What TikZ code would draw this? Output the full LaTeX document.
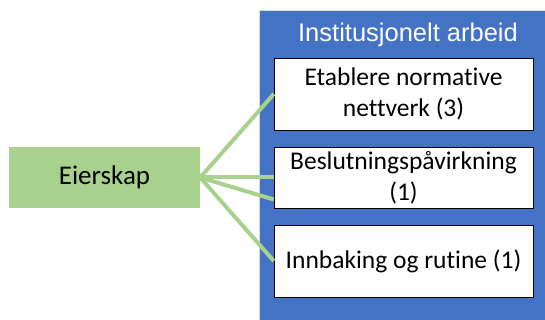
\documentclass[tikz,border=0pt]{standalone}
\usepackage{fontspec}
\setmainfont{Carlito}[Ligatures={NoCommon}]
\newfontfamily\titlefont{Liberation Sans}

\definecolor{workblue}{HTML}{4472C4}
\definecolor{owngreen}{HTML}{A9D18E}

\tikzset{
    workbox/.style={draw=black, fill=white, minimum width=259pt, minimum height=72pt,
        align=center, inner sep=0pt, font=\fontsize{25.5}{31}\selectfont},
    link/.style={draw=owngreen, line width=4pt}
}

\begin{document}
\begin{tikzpicture}[x=1pt, y=-1pt]
            \useasboundingbox (0, 0) rectangle (545, 320);
            % outer frame
            \filldraw[fill=workblue, draw=black!15] (259, 10) rectangle (548, 323);
            \node[text=white, font=\titlefont\fontsize{25.5}{30}\selectfont] (title) at (408, 35) {Institusjonelt arbeid};
            \node[workbox] (etab) at (403.5, 94) {Etablere normative\\nettverk (3)};
            \node[workbox, minimum height=61pt] (besl) at (403.5, 177.5) {Beslutningspåvirkning\\(1)};
            \node[workbox] (innb) at (403.5, 261) {Innbaking og rutine (1)};
            % owner
            \node[fill=owngreen, minimum width=191pt, minimum height=61pt, inner sep=0pt,
                font=\fontsize{27}{31}\selectfont] (eier) at (104.5, 177.5) {Eierskap};
            \draw[link] (eier.east) -- (etab.west);
            \draw[link] (eier.east) -- (besl.west);
            \draw[link] (eier.east) -- ([yshift=-22pt]besl.west);
            \draw[link] (eier.east) -- (innb.west);
        \end{tikzpicture}
\end{document}
